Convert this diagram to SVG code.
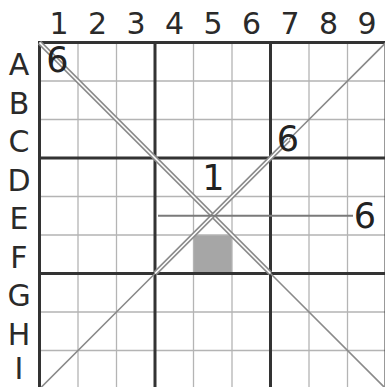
<svg xmlns="http://www.w3.org/2000/svg" width="385" height="387" viewBox="0 0 385 387">
<style>
.thin{stroke:#b4b4b4;stroke-width:1.3;fill:none}
.thick{stroke:#333;stroke-width:3;fill:none}
.single{stroke:#8a8a8a;stroke-width:1.6;fill:none}
.dblo{stroke:#8a8a8a;stroke-width:4.6;fill:none}
.dbli{stroke:#fff;stroke-width:1.6;fill:none}
.lab{font-family:"DejaVu Sans",sans-serif;font-size:30px;fill:#2a2a2a;text-anchor:middle}
.dig{font-family:"DejaVu Sans",sans-serif;font-size:35px;fill:#222;text-anchor:middle}
</style>
<rect width="385" height="387" fill="#fff"/>
<g id="shade"><rect x="193.5" y="235" width="38.5" height="38.5" fill="#a6a6a6"/></g>
<g id="grid-thin">
<path class="thin" d="M78 42.5V389M116.5 42.5V389M193.5 42.5V389M232 42.5V389M309 42.5V389M347.5 42.5V389M39.5 81H386M39.5 119.5H386M39.5 196.5H386M39.5 235H386M39.5 312H386M39.5 350.5H386"/>
</g>
<g id="grid-thick">
<path class="thick" d="M155 42.5V389M270.5 42.5V389M39.5 158H386M39.5 273.5H386"/>
<rect class="thick" x="39.5" y="42.5" width="346.5" height="346.5"/>
</g>
<g id="connectors">
<path class="single" d="M270.5 273.5L386 389"/>
<path class="dblo" d="M39.5 42.5L270.5 273.5"/>
<path class="dbli" d="M39.5 42.5L270.5 273.5"/>
<path class="single" d="M39.5 389L155 273.5M289 139.5L386 42.5"/>
<path class="dblo" d="M155 273.5L289 139.5"/>
<path class="dbli" d="M155 273.5L289 139.5"/>
<path d="M158 215.75H353" stroke="#7a7a7a" stroke-width="2" fill="none"/>
</g>
<g id="col-labels">
<text class="lab" x="59" y="34">1</text>
<text class="lab" x="97.5" y="34">2</text>
<text class="lab" x="136" y="34">3</text>
<text class="lab" x="174.5" y="34">4</text>
<text class="lab" x="213" y="34">5</text>
<text class="lab" x="251.5" y="34">6</text>
<text class="lab" x="290" y="34">7</text>
<text class="lab" x="328.5" y="34">8</text>
<text class="lab" x="367" y="34">9</text>
</g>
<g id="row-labels">
<text class="lab" x="19" y="75">A</text>
<text class="lab" x="19" y="113.5">B</text>
<text class="lab" x="19" y="152">C</text>
<text class="lab" x="19" y="190.5">D</text>
<text class="lab" x="19" y="229">E</text>
<text class="lab" x="19" y="267.5">F</text>
<text class="lab" x="19" y="306">G</text>
<text class="lab" x="19" y="344.5">H</text>
<text class="lab" x="19" y="379">I</text>
</g>
<g id="n-a1"><text class="dig" x="57.5" y="72">6</text></g>
<g id="n-c7"><text class="dig" x="288" y="151">6</text></g>
<g id="n-d5"><text class="dig" x="213.5" y="190">1</text></g>
<g id="n-e9"><text class="dig" x="365" y="228">6</text></g>
</svg>
